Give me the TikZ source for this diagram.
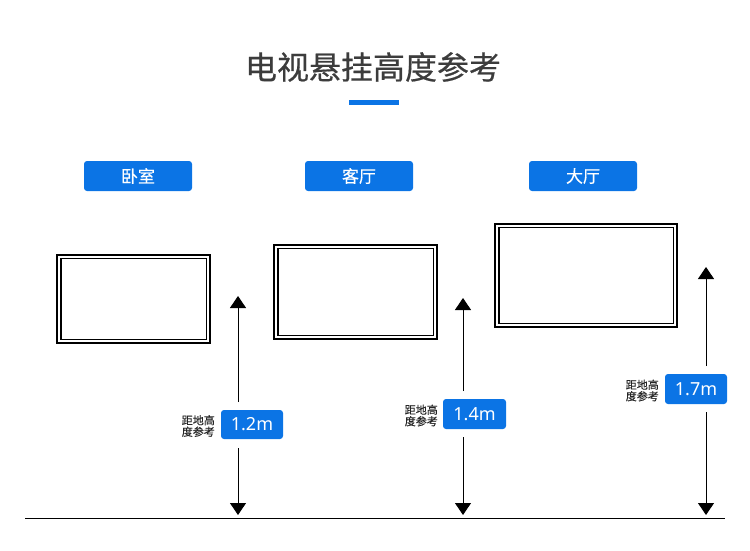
\documentclass[tikz,border=0pt]{standalone}
\usepackage{fontspec}
\setmainfont{Noto Sans}
\newfontfamily\cjk{Noto Sans CJK SC}
\newfontfamily\cjkmed[FakeBold=0.5]{Noto Sans CJK SC}
\usetikzlibrary{arrows.meta}
\definecolor{tvblue}{RGB}{11,116,229}
\definecolor{titlegray}{RGB}{60,60,60}
\tikzset{
  roomtag/.style={fill=tvblue, rounded corners=3pt, text=white, font=\cjkmed\fontsize{17}{17}\selectfont, inner sep=0pt},
  htag/.style={fill=tvblue, rounded corners=3pt, text=white, font=\fontsize{18}{18}\selectfont, inner sep=0pt},
  side/.style={text=black!85, font=\cjkmed\fontsize{11}{11.5}\selectfont, align=center, inner sep=0pt},
  tvline/.style={line width=1.1pt, black},
  dimline/.style={line width=1pt, black},
  tip/.style={-{Triangle[length=12pt,width=16pt]}},
}
\begin{document}
\begin{tikzpicture}[x=1pt,y=-1pt]
\useasboundingbox (0,0) rectangle (750,551);
% title
\node[text=titlegray, font=\cjkmed\fontsize{32}{32}\selectfont, inner sep=0pt] (title) at (373,67) {电视悬挂高度参考};
\fill[tvblue] (349,100) rectangle (399,105);
% room tags
\node[roomtag, minimum width=108pt, minimum height=30pt] (r1) at (138,176) {卧室};
\node[roomtag, minimum width=108pt, minimum height=30pt] (r2) at (359,176) {客厅};
\node[roomtag, minimum width=108pt, minimum height=30pt] (r3) at (583,176) {大厅};
% TVs
\draw[tvline] (57,255) rectangle (210,343);
\draw[tvline] (61,258.5) rectangle (206.5,339.5);
\draw[tvline] (274,245) rectangle (437,339);
\draw[tvline] (278,248.5) rectangle (433.5,335.5);
\draw[tvline] (495,224) rectangle (677,327);
\draw[tvline] (499,227.5) rectangle (673.5,323.5);
% ground
\coordinate (g1) at (25,518);
\coordinate (g2) at (725,518);
\draw[line width=1pt] (g1) -- (g2);
% height tags
\node[htag, minimum width=62pt, minimum height=29pt] (h1) at (252,424.5) {1.2m};
\node[htag, minimum width=63pt, minimum height=30pt] (h2) at (474.5,414) {1.4m};
\node[htag, minimum width=62pt, minimum height=30pt] (h3) at (696,389) {1.7m};
\node[side, anchor=east] (s1) at (215,426) {距地高\\度参考};
\node[side, anchor=east] (s2) at (438,415.5) {距地高\\度参考};
\node[side, anchor=east] (s3) at (659,390.5) {距地高\\度参考};
% arrows
\coordinate (a1t) at (238,296); \coordinate (a1u) at (238,402);
\coordinate (a1l) at (238,448); \coordinate (a1b) at (238,515);
\draw[dimline, tip] (a1u) -- (a1t);
\draw[dimline, tip] (a1l) -- (a1b);
\coordinate (a2t) at (463,298); \coordinate (a2u) at (463,391);
\coordinate (a2l) at (463,437); \coordinate (a2b) at (463,515);
\draw[dimline, tip] (a2u) -- (a2t);
\draw[dimline, tip] (a2l) -- (a2b);
\coordinate (a3t) at (706,267); \coordinate (a3u) at (706,366);
\coordinate (a3l) at (706,412); \coordinate (a3b) at (706,515);
\draw[dimline, tip] (a3u) -- (a3t);
\draw[dimline, tip] (a3l) -- (a3b);
\end{tikzpicture}
\end{document}
